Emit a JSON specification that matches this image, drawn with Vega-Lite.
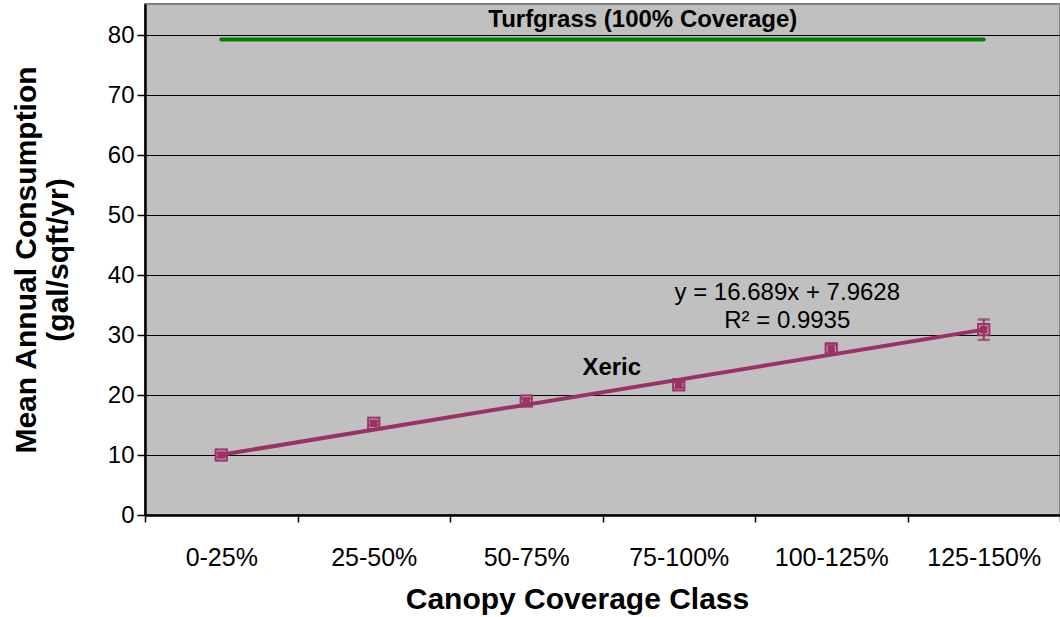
{
  "$schema": "https://vega.github.io/schema/vega-lite/v6.json",
  "autosize": {"type": "none"},
  "width": 915,
  "height": 511,
  "padding": {"left": 145, "top": 4, "right": 0, "bottom": 102},
  "background": "white",
  "config": {
    "font": "Liberation Sans",
    "view": {"fill": "#C0C0C0", "stroke": "#808080", "strokeWidth": 2}
  },
  "datasets": {
    "pts": [
      {"cls": "0-25%", "mean": 10.0, "lo": 9.7, "hi": 10.3},
      {"cls": "25-50%", "mean": 15.3, "lo": 15.0, "hi": 15.6},
      {"cls": "50-75%", "mean": 19.0, "lo": 18.6, "hi": 19.4},
      {"cls": "75-100%", "mean": 21.7, "lo": 21.2, "hi": 22.2},
      {"cls": "100-125%", "mean": 27.7, "lo": 27.0, "hi": 28.4},
      {"cls": "125-150%", "mean": 30.9, "lo": 29.2, "hi": 32.6}
    ],
    "trend": [
      {"cls": "0-25%", "fit": 10.05},
      {"cls": "125-150%", "fit": 30.91}
    ],
    "turf": [
      {"cls": "0-25%", "val": 79.3},
      {"cls": "125-150%", "val": 79.3}
    ],
    "labels": [
      {"cls": "75-100%", "y": 82.5, "txt": "Turfgrass (100% Coverage)", "kind": "turf"},
      {"cls": "75-100%", "y": 24.5, "txt": "Xeric", "kind": "xeric"}
    ],
    "eq": [
      {"cls": "100-125%", "y": 37.0, "txt": "y = 16.689x + 7.9628"},
      {"cls": "100-125%", "y": 32.3, "txt": "R² = 0.9935"}
    ]
  },
  "encoding": {
    "x": {
      "field": "cls",
      "type": "nominal",
      "sort": ["0-25%", "25-50%", "50-75%", "75-100%", "100-125%", "125-150%"],
      "scale": {"paddingInner": 0, "paddingOuter": 0},
      "axis": {
        "title": "Canopy Coverage Class",
        "titleFont": "Liberation Sans",
        "titleFontSize": 30,
        "titleFontWeight": "bold",
        "titleColor": "black",
        "titlePadding": 14,
        "titleX": 432,
        "labelFontSize": 25,
        "labelColor": "black",
        "labelAngle": 0,
        "labelPadding": 23,
        "tickBand": "extent",
        "tickSize": 7,
        "tickColor": "black",
        "tickWidth": 1.5,
        "domainColor": "black",
        "domainWidth": 2.5,
        "grid": false
      }
    }
  },
  "layer": [
    {
      "data": {"name": "turf"},
      "mark": {"type": "line", "color": "#008000", "strokeWidth": 4, "strokeCap": "round"},
      "encoding": {
        "y": {
          "field": "val",
          "type": "quantitative",
          "scale": {"domain": [0, 85.2], "nice": false, "zero": true},
          "axis": {
            "title": ["Mean Annual Consumption", "(gal/sqft/yr)"],
            "titleFontSize": 30,
            "titleFontWeight": "bold",
            "titleColor": "black",
            "titleLineHeight": 32,
            "titlePadding": 34,
            "values": [0, 10, 20, 30, 40, 50, 60, 70, 80],
            "labelFontSize": 24,
            "labelColor": "black",
            "labelPadding": 3,
            "tickSize": 8,
            "tickColor": "black",
            "tickWidth": 1.5,
            "domainColor": "black",
            "domainWidth": 2.5,
            "grid": true,
            "gridColor": "black",
            "gridWidth": 1.2
          }
        }
      }
    },
    {
      "data": {"name": "pts"},
      "mark": {"type": "point", "shape": "square", "filled": true, "size": 175, "color": "#993366", "opacity": 1},
      "encoding": {"y": {"field": "mean", "type": "quantitative"}}
    },
    {
      "data": {"name": "pts"},
      "mark": {"type": "point", "shape": "square", "filled": false, "size": 70, "color": "#E8B8D0", "strokeWidth": 1, "opacity": 0.8},
      "encoding": {"y": {"field": "mean", "type": "quantitative"}}
    },
    {
      "data": {"name": "trend"},
      "mark": {"type": "line", "color": "#993366", "strokeWidth": 4},
      "encoding": {"y": {"field": "fit", "type": "quantitative"}}
    },
    {
      "data": {"name": "pts"},
      "mark": {"type": "rule", "color": "#993366", "strokeWidth": 2},
      "encoding": {
        "y": {"field": "lo", "type": "quantitative"},
        "y2": {"field": "hi"}
      }
    },
    {
      "data": {"name": "pts"},
      "mark": {"type": "tick", "color": "#993366", "thickness": 2.5, "size": 12, "orient": "horizontal"},
      "encoding": {"y": {"field": "lo", "type": "quantitative"}}
    },
    {
      "data": {"name": "pts"},
      "mark": {"type": "tick", "color": "#993366", "thickness": 2.5, "size": 12, "orient": "horizontal"},
      "encoding": {"y": {"field": "hi", "type": "quantitative"}}
    },
    {
      "data": {"name": "labels"},
      "transform": [{"filter": "datum.kind == 'turf'"}],
      "mark": {"type": "text", "fontSize": 24, "fontWeight": "bold", "color": "black", "dx": -36, "align": "center", "baseline": "middle"},
      "encoding": {"y": {"field": "y", "type": "quantitative"}, "text": {"field": "txt"}}
    },
    {
      "data": {"name": "labels"},
      "transform": [{"filter": "datum.kind == 'xeric'"}],
      "mark": {"type": "text", "fontSize": 24, "fontWeight": "bold", "color": "black", "dx": -67, "align": "center", "baseline": "middle"},
      "encoding": {"y": {"field": "y", "type": "quantitative"}, "text": {"field": "txt"}}
    },
    {
      "data": {"name": "eq"},
      "mark": {"type": "text", "fontSize": 24, "color": "black", "dx": -44, "align": "center", "baseline": "middle"},
      "encoding": {"y": {"field": "y", "type": "quantitative"}, "text": {"field": "txt"}}
    }
  ]
}
